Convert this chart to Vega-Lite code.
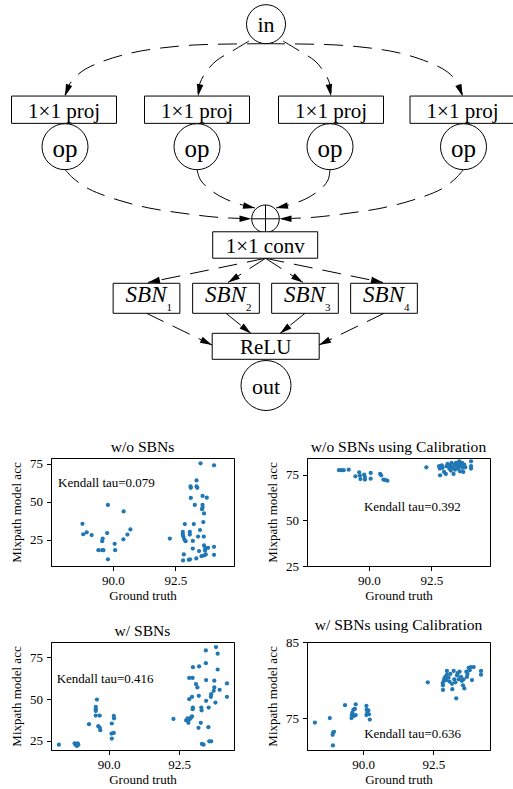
{
"$schema": "https://vega.github.io/schema/vega-lite/v6.json",
"background": "white",
"padding": {"left": 9, "top": 0, "right": 0, "bottom": 0},
"bounds": "flush",
"spacing": 184,
"config": {
 "font": "Liberation Serif",
 "view": {"stroke": "black", "strokeWidth": 1},
 "axis": {"labelFont": "Liberation Serif", "labelFontSize": 13, "labelColor": "black", "titleFont": "Liberation Serif", "titleFontSize": 13, "titleFontWeight": "normal", "titleColor": "black", "tickColor": "black", "tickSize": 4.5, "domainColor": "black", "grid": false, "labelFlush": false},
 "axisX": {"labelPadding": 3.5, "titlePadding": 2},
 "axisY": {"labelPadding": 4, "titlePadding": 6},
 "title": {"font": "Liberation Serif", "fontSize": 15.6, "fontWeight": "normal", "color": "black", "offset": 2, "frame": "group"}
},
"datasets": {
 "nodes": [
  {"id": "in", "kind": "in", "label": "in", "x": 0.15, "y": 2.42},
  {"id": "proj1", "kind": "proj", "label": "1×1 proj", "x": -20.05, "y": 10.97},
  {"id": "proj2", "kind": "proj", "label": "1×1 proj", "x": -6.75, "y": 10.97},
  {"id": "proj3", "kind": "proj", "label": "1×1 proj", "x": 6.65, "y": 10.97},
  {"id": "proj4", "kind": "proj", "label": "1×1 proj", "x": 19.8, "y": 10.97},
  {"id": "op1", "kind": "op", "label": "op", "x": -19.95, "y": 14.67},
  {"id": "op2", "kind": "op", "label": "op", "x": -6.75, "y": 14.67},
  {"id": "op3", "kind": "op", "label": "op", "x": 6.55, "y": 14.67},
  {"id": "op4", "kind": "op", "label": "op", "x": 19.9, "y": 14.67},
  {"id": "sum", "kind": "sum", "label": "", "x": 0.1, "y": 21.88},
  {"id": "conv", "kind": "conv", "label": "1×1 conv", "x": 0.07, "y": 24.5},
  {"id": "sbn1", "kind": "sbn", "label": "SBN", "sub": "1", "x": -11.8, "y": 29.83},
  {"id": "sbn2", "kind": "sbn", "label": "SBN", "sub": "2", "x": -3.85, "y": 29.83},
  {"id": "sbn3", "kind": "sbn", "label": "SBN", "sub": "3", "x": 4.05, "y": 29.83},
  {"id": "sbn4", "kind": "sbn", "label": "SBN", "sub": "4", "x": 11.95, "y": 29.83},
  {"id": "relu", "kind": "relu", "label": "ReLU", "x": 0.12, "y": 34.63},
  {"id": "out", "kind": "out", "label": "out", "x": 0.15, "y": 38.55}
 ],
 "edges": [
  {"edge": "e1", "seq": 1, "x": 0.15, "y": 4.37}, {"edge": "e1", "seq": 2, "x": -3.35, "y": 4.4}, {"edge": "e1", "seq": 3, "x": -7.05, "y": 4.5}, {"edge": "e1", "seq": 4, "x": -10.35, "y": 4.8}, {"edge": "e1", "seq": 5, "x": -13.35, "y": 5.3}, {"edge": "e1", "seq": 6, "x": -16.35, "y": 6.2}, {"edge": "e1", "seq": 7, "x": -18.35, "y": 7.2}, {"edge": "e1", "seq": 8, "x": -19.55, "y": 8.5}, {"edge": "e1", "seq": 9, "x": -19.95, "y": 9.5},
  {"edge": "e2", "seq": 1, "x": -1.55, "y": 4.1}, {"edge": "e2", "seq": 2, "x": -3.05, "y": 5.0}, {"edge": "e2", "seq": 3, "x": -4.85, "y": 6.1}, {"edge": "e2", "seq": 4, "x": -5.85, "y": 7.2}, {"edge": "e2", "seq": 5, "x": -6.45, "y": 8.3}, {"edge": "e2", "seq": 6, "x": -6.65, "y": 9.3},
  {"edge": "e3", "seq": 1, "x": 1.85, "y": 4.1}, {"edge": "e3", "seq": 2, "x": 3.35, "y": 5.0}, {"edge": "e3", "seq": 3, "x": 5.05, "y": 6.1}, {"edge": "e3", "seq": 4, "x": 5.95, "y": 7.2}, {"edge": "e3", "seq": 5, "x": 6.5, "y": 8.3}, {"edge": "e3", "seq": 6, "x": 6.65, "y": 9.3},
  {"edge": "e4", "seq": 1, "x": 0.15, "y": 4.37}, {"edge": "e4", "seq": 2, "x": 3.65, "y": 4.4}, {"edge": "e4", "seq": 3, "x": 7.25, "y": 4.5}, {"edge": "e4", "seq": 4, "x": 10.55, "y": 4.8}, {"edge": "e4", "seq": 5, "x": 13.5, "y": 5.3}, {"edge": "e4", "seq": 6, "x": 16.35, "y": 6.2}, {"edge": "e4", "seq": 7, "x": 18.3, "y": 7.2}, {"edge": "e4", "seq": 8, "x": 19.45, "y": 8.5}, {"edge": "e4", "seq": 9, "x": 19.8, "y": 9.5},
  {"edge": "e5", "seq": 1, "x": -19.95, "y": 16.95}, {"edge": "e5", "seq": 2, "x": -19.15, "y": 17.8}, {"edge": "e5", "seq": 3, "x": -17.55, "y": 18.9}, {"edge": "e5", "seq": 4, "x": -14.65, "y": 20.0}, {"edge": "e5", "seq": 5, "x": -11.55, "y": 20.8}, {"edge": "e5", "seq": 6, "x": -8.35, "y": 21.3}, {"edge": "e5", "seq": 7, "x": -5.05, "y": 21.7}, {"edge": "e5", "seq": 8, "x": -2.35, "y": 21.85}, {"edge": "e5", "seq": 9, "x": -1.3, "y": 21.88},
  {"edge": "e6", "seq": 1, "x": -6.75, "y": 16.95}, {"edge": "e6", "seq": 2, "x": -6.4, "y": 18.0}, {"edge": "e6", "seq": 3, "x": -5.4, "y": 19.0}, {"edge": "e6", "seq": 4, "x": -3.9, "y": 19.9}, {"edge": "e6", "seq": 5, "x": -2.2, "y": 20.5}, {"edge": "e6", "seq": 6, "x": -0.95, "y": 20.8},
  {"edge": "e7", "seq": 1, "x": 6.55, "y": 16.95}, {"edge": "e7", "seq": 2, "x": 6.35, "y": 18.0}, {"edge": "e7", "seq": 3, "x": 5.5, "y": 19.0}, {"edge": "e7", "seq": 4, "x": 4.1, "y": 19.9}, {"edge": "e7", "seq": 5, "x": 2.4, "y": 20.5}, {"edge": "e7", "seq": 6, "x": 1.15, "y": 20.8},
  {"edge": "e8", "seq": 1, "x": 19.9, "y": 16.95}, {"edge": "e8", "seq": 2, "x": 19.15, "y": 17.8}, {"edge": "e8", "seq": 3, "x": 17.7, "y": 18.9}, {"edge": "e8", "seq": 4, "x": 14.85, "y": 20.0}, {"edge": "e8", "seq": 5, "x": 11.75, "y": 20.8}, {"edge": "e8", "seq": 6, "x": 8.55, "y": 21.3}, {"edge": "e8", "seq": 7, "x": 5.25, "y": 21.7}, {"edge": "e8", "seq": 8, "x": 2.55, "y": 21.85}, {"edge": "e8", "seq": 9, "x": 1.5, "y": 21.88},
  {"edge": "e9", "seq": 1, "x": 0.1, "y": 25.83}, {"edge": "e9", "seq": 2, "x": -11.65, "y": 28.25},
  {"edge": "e10", "seq": 1, "x": 0.1, "y": 25.83}, {"edge": "e10", "seq": 2, "x": -3.65, "y": 28.25},
  {"edge": "e11", "seq": 1, "x": 0.1, "y": 25.83}, {"edge": "e11", "seq": 2, "x": 3.85, "y": 28.25},
  {"edge": "e12", "seq": 1, "x": 0.1, "y": 25.83}, {"edge": "e12", "seq": 2, "x": 11.85, "y": 28.25},
  {"edge": "e13", "seq": 1, "x": -11.8, "y": 31.33}, {"edge": "e13", "seq": 2, "x": -5.25, "y": 34.5},
  {"edge": "e14", "seq": 1, "x": -3.85, "y": 31.33}, {"edge": "e14", "seq": 2, "x": -1.35, "y": 33.35},
  {"edge": "e15", "seq": 1, "x": 4.05, "y": 31.33}, {"edge": "e15", "seq": 2, "x": 1.55, "y": 33.35},
  {"edge": "e16", "seq": 1, "x": 11.95, "y": 31.33}, {"edge": "e16", "seq": 2, "x": 5.45, "y": 34.5}
 ],
 "arrows": [
  {"x": -19.95, "y": 9.62, "angle": 200}, {"x": -6.65, "y": 9.62, "angle": 190}, {"x": 6.65, "y": 9.62, "angle": 170}, {"x": 19.8, "y": 9.62, "angle": 160},
  {"x": -1.3, "y": 21.88, "angle": 90}, {"x": -0.95, "y": 20.8, "angle": 102}, {"x": 1.15, "y": 20.8, "angle": 258}, {"x": 1.5, "y": 21.88, "angle": 270},
  {"x": -11.65, "y": 28.25, "angle": 258}, {"x": -3.65, "y": 28.25, "angle": 237}, {"x": 3.85, "y": 28.25, "angle": 123}, {"x": 11.85, "y": 28.25, "angle": 102},
  {"x": -5.25, "y": 34.5, "angle": 116}, {"x": -1.35, "y": 33.35, "angle": 129}, {"x": 1.55, "y": 33.35, "angle": 231}, {"x": 5.45, "y": 34.5, "angle": 244}
 ],
 "ann": [
  {"panel": "p1", "gt": 87.8, "acc": 62.4, "label": "Kendall tau=0.079"},
  {"panel": "p2", "gt": 89.8, "acc": 57.2, "label": "Kendall tau=0.392"},
  {"panel": "p3", "gt": 88.15, "acc": 62.0, "label": "Kendall tau=0.416"},
  {"panel": "p4", "gt": 90.04, "acc": 72.9, "label": "Kendall tau=0.636"}
 ],
 "p1": [
  {"gt": 88.78, "acc": 35.4}, {"gt": 88.81, "acc": 28.5}, {"gt": 88.95, "acc": 29.8}, {"gt": 89.15, "acc": 28.0}, {"gt": 89.8, "acc": 47.8}, {"gt": 89.77, "acc": 29.3}, {"gt": 89.59, "acc": 25.7}, {"gt": 89.57, "acc": 23.9}, {"gt": 89.42, "acc": 18.0}, {"gt": 89.57, "acc": 18.0}, {"gt": 89.62, "acc": 18.0}, {"gt": 89.8, "acc": 12.0}, {"gt": 90.07, "acc": 22.2}, {"gt": 90.09, "acc": 18.0}, {"gt": 90.43, "acc": 43.5}, {"gt": 90.42, "acc": 25.2}, {"gt": 90.58, "acc": 28.3}, {"gt": 90.7, "acc": 31.7},
  {"gt": 92.28, "acc": 25.7}, {"gt": 92.88, "acc": 35.2}, {"gt": 92.8, "acc": 30.0}, {"gt": 92.8, "acc": 28.3}, {"gt": 92.82, "acc": 27.0}, {"gt": 92.86, "acc": 25.2}, {"gt": 92.91, "acc": 23.9}, {"gt": 92.84, "acc": 15.2}, {"gt": 92.81, "acc": 11.3}, {"gt": 93.04, "acc": 11.7}, {"gt": 93.09, "acc": 12.0}, {"gt": 93.08, "acc": 30.0}, {"gt": 93.08, "acc": 28.3}, {"gt": 93.12, "acc": 52.4}, {"gt": 93.11, "acc": 60.0}, {"gt": 93.12, "acc": 59.1}, {"gt": 93.2, "acc": 24.1}, {"gt": 93.2, "acc": 19.1}, {"gt": 93.24, "acc": 35.2}, {"gt": 93.28, "acc": 47.8}, {"gt": 93.35, "acc": 63.9}, {"gt": 93.35, "acc": 60.0}, {"gt": 93.38, "acc": 59.1}, {"gt": 93.34, "acc": 12.6}, {"gt": 93.41, "acc": 27.0}, {"gt": 93.45, "acc": 17.4}, {"gt": 93.49, "acc": 31.3}, {"gt": 93.51, "acc": 75.2}, {"gt": 93.57, "acc": 45.0}, {"gt": 93.59, "acc": 47.8}, {"gt": 93.59, "acc": 46.1}, {"gt": 93.59, "acc": 53.7}, {"gt": 93.55, "acc": 14.1}, {"gt": 93.65, "acc": 42.2}, {"gt": 93.62, "acc": 36.5}, {"gt": 93.64, "acc": 27.0}, {"gt": 93.65, "acc": 21.1}, {"gt": 93.7, "acc": 19.3}, {"gt": 93.69, "acc": 17.8}, {"gt": 93.76, "acc": 52.6}, {"gt": 93.81, "acc": 19.6}, {"gt": 93.66, "acc": 14.6}, {"gt": 93.72, "acc": 15.2}, {"gt": 94.05, "acc": 20.2}, {"gt": 94.05, "acc": 15.0}, {"gt": 94.05, "acc": 73.9}
 ],
 "p2": [
  {"gt": 88.8, "acc": 77.4}, {"gt": 88.89, "acc": 77.4}, {"gt": 88.99, "acc": 77.4}, {"gt": 89.19, "acc": 77.7}, {"gt": 89.46, "acc": 74.1}, {"gt": 89.61, "acc": 76.3}, {"gt": 89.64, "acc": 74.5}, {"gt": 89.66, "acc": 72.6}, {"gt": 89.81, "acc": 75.0}, {"gt": 89.84, "acc": 73.7}, {"gt": 89.84, "acc": 72.3}, {"gt": 90.07, "acc": 75.9}, {"gt": 90.07, "acc": 72.8}, {"gt": 90.45, "acc": 75.4}, {"gt": 90.49, "acc": 74.6}, {"gt": 90.58, "acc": 72.3}, {"gt": 90.65, "acc": 72.1}, {"gt": 90.74, "acc": 71.7},
  {"gt": 92.3, "acc": 79.0}, {"gt": 92.81, "acc": 79.6}, {"gt": 92.84, "acc": 78.3}, {"gt": 92.85, "acc": 74.6}, {"gt": 92.92, "acc": 80.1}, {"gt": 92.95, "acc": 78.7}, {"gt": 93.01, "acc": 76.5}, {"gt": 93.08, "acc": 75.4}, {"gt": 93.11, "acc": 79.6}, {"gt": 93.15, "acc": 80.9}, {"gt": 93.22, "acc": 78.3}, {"gt": 93.24, "acc": 80.1}, {"gt": 93.28, "acc": 77.2}, {"gt": 93.31, "acc": 81.4}, {"gt": 93.35, "acc": 79.0}, {"gt": 93.39, "acc": 75.4}, {"gt": 93.42, "acc": 80.5}, {"gt": 93.45, "acc": 77.7}, {"gt": 93.49, "acc": 81.4}, {"gt": 93.51, "acc": 79.6}, {"gt": 93.55, "acc": 81.4}, {"gt": 93.58, "acc": 78.3}, {"gt": 93.62, "acc": 80.5}, {"gt": 93.62, "acc": 82.3}, {"gt": 93.65, "acc": 76.8}, {"gt": 93.69, "acc": 79.6}, {"gt": 93.73, "acc": 81.4}, {"gt": 93.76, "acc": 78.7}, {"gt": 93.78, "acc": 76.5}, {"gt": 93.82, "acc": 80.5}, {"gt": 93.86, "acc": 79.0}, {"gt": 94.09, "acc": 82.3}, {"gt": 94.09, "acc": 79.6}, {"gt": 94.09, "acc": 78.3}
 ],
 "p3": [
  {"gt": 88.23, "acc": 22.8}, {"gt": 88.79, "acc": 23.6}, {"gt": 88.82, "acc": 22.8}, {"gt": 88.87, "acc": 22.0}, {"gt": 88.9, "acc": 23.6}, {"gt": 88.92, "acc": 22.8}, {"gt": 89.3, "acc": 35.0}, {"gt": 89.58, "acc": 49.7}, {"gt": 89.54, "acc": 45.3}, {"gt": 89.54, "acc": 43.9}, {"gt": 89.54, "acc": 42.9}, {"gt": 89.54, "acc": 40.1}, {"gt": 89.68, "acc": 40.1}, {"gt": 89.63, "acc": 33.8}, {"gt": 89.68, "acc": 33.0}, {"gt": 89.7, "acc": 31.4}, {"gt": 90.11, "acc": 35.4}, {"gt": 90.11, "acc": 26.4}, {"gt": 90.1, "acc": 29.4}, {"gt": 90.18, "acc": 29.8}, {"gt": 90.18, "acc": 39.9}, {"gt": 90.19, "acc": 38.5},
  {"gt": 92.3, "acc": 38.1}, {"gt": 92.75, "acc": 37.3}, {"gt": 92.8, "acc": 38.5}, {"gt": 92.83, "acc": 35.8}, {"gt": 92.87, "acc": 37.9}, {"gt": 92.92, "acc": 38.9}, {"gt": 92.96, "acc": 39.7}, {"gt": 92.98, "acc": 43.9}, {"gt": 92.99, "acc": 44.9}, {"gt": 92.96, "acc": 51.3}, {"gt": 92.86, "acc": 49.9}, {"gt": 92.86, "acc": 62.6}, {"gt": 92.98, "acc": 62.6}, {"gt": 92.99, "acc": 69.0}, {"gt": 93.21, "acc": 69.4}, {"gt": 93.1, "acc": 58.9}, {"gt": 93.15, "acc": 56.9}, {"gt": 93.2, "acc": 51.9}, {"gt": 93.29, "acc": 44.9}, {"gt": 93.3, "acc": 43.3}, {"gt": 93.27, "acc": 35.8}, {"gt": 93.19, "acc": 32.8}, {"gt": 93.31, "acc": 23.2}, {"gt": 93.37, "acc": 22.8}, {"gt": 93.45, "acc": 79.0}, {"gt": 93.45, "acc": 71.4}, {"gt": 93.46, "acc": 61.3}, {"gt": 93.46, "acc": 48.9}, {"gt": 93.55, "acc": 44.9}, {"gt": 93.54, "acc": 33.2}, {"gt": 93.57, "acc": 24.8}, {"gt": 93.64, "acc": 24.8}, {"gt": 93.63, "acc": 51.3}, {"gt": 93.64, "acc": 52.9}, {"gt": 93.73, "acc": 54.9}, {"gt": 93.75, "acc": 56.9}, {"gt": 93.75, "acc": 60.9}, {"gt": 93.79, "acc": 47.9}, {"gt": 93.81, "acc": 81.0}, {"gt": 93.87, "acc": 77.0}, {"gt": 93.87, "acc": 67.6}, {"gt": 93.94, "acc": 55.5}, {"gt": 94.2, "acc": 59.3}, {"gt": 94.2, "acc": 51.3}
 ],
 "p4": [
  {"gt": 88.29, "acc": 74.4}, {"gt": 88.82, "acc": 75.0}, {"gt": 88.92, "acc": 72.8}, {"gt": 88.94, "acc": 73.1}, {"gt": 88.97, "acc": 73.2}, {"gt": 88.93, "acc": 71.4}, {"gt": 89.36, "acc": 76.7}, {"gt": 89.59, "acc": 75.0}, {"gt": 89.6, "acc": 75.4}, {"gt": 89.62, "acc": 75.7}, {"gt": 89.66, "acc": 76.1}, {"gt": 89.71, "acc": 76.2}, {"gt": 89.74, "acc": 76.8}, {"gt": 89.74, "acc": 75.4}, {"gt": 89.68, "acc": 75.3}, {"gt": 90.12, "acc": 76.6}, {"gt": 90.13, "acc": 76.1}, {"gt": 90.15, "acc": 75.7}, {"gt": 90.19, "acc": 76.0}, {"gt": 90.21, "acc": 75.5}, {"gt": 90.24, "acc": 74.8}, {"gt": 90.12, "acc": 75.4},
  {"gt": 92.3, "acc": 79.7}, {"gt": 92.83, "acc": 79.6}, {"gt": 92.84, "acc": 78.7}, {"gt": 92.84, "acc": 79.3}, {"gt": 92.87, "acc": 79.9}, {"gt": 92.89, "acc": 80.2}, {"gt": 92.92, "acc": 80.4}, {"gt": 92.95, "acc": 80.0}, {"gt": 92.98, "acc": 81.2}, {"gt": 92.98, "acc": 80.7}, {"gt": 93.04, "acc": 80.3}, {"gt": 93.07, "acc": 79.8}, {"gt": 93.1, "acc": 80.8}, {"gt": 93.16, "acc": 79.5}, {"gt": 93.17, "acc": 78.8}, {"gt": 93.22, "acc": 81.2}, {"gt": 93.24, "acc": 80.1}, {"gt": 93.28, "acc": 79.7}, {"gt": 93.31, "acc": 77.6}, {"gt": 93.34, "acc": 80.6}, {"gt": 93.36, "acc": 80.9}, {"gt": 93.4, "acc": 80.1}, {"gt": 93.43, "acc": 81.1}, {"gt": 93.48, "acc": 80.4}, {"gt": 93.51, "acc": 79.9}, {"gt": 93.55, "acc": 79.3}, {"gt": 93.57, "acc": 80.1}, {"gt": 93.6, "acc": 78.9}, {"gt": 93.67, "acc": 81.1}, {"gt": 93.69, "acc": 80.4}, {"gt": 93.71, "acc": 80.8}, {"gt": 93.75, "acc": 81.6}, {"gt": 93.79, "acc": 81.3}, {"gt": 93.83, "acc": 81.7}, {"gt": 93.87, "acc": 80.0}, {"gt": 93.93, "acc": 81.7}, {"gt": 94.19, "acc": 81.2}, {"gt": 94.19, "acc": 80.7}
 ]
},
"vconcat": [
 {
  "width": 463, "height": 274,
  "view": {"stroke": null},
  "encoding": {
   "x": {"field": "x", "type": "quantitative", "scale": {"domain": [-21.35, 24.95], "nice": false, "zero": false}, "axis": null},
   "y": {"field": "y", "type": "quantitative", "scale": {"domain": [0, 27.4], "nice": false, "zero": false, "reverse": true}, "axis": null}
  },
  "layer": [
   {"data": {"name": "edges"}, "mark": {"type": "line", "color": "black", "strokeWidth": 1, "strokeDash": [19, 10], "interpolate": "catmull-rom", "clip": false},
    "encoding": {"detail": {"field": "edge", "type": "nominal"}, "order": {"field": "seq", "type": "quantitative"}}},
   {"data": {"name": "nodes"}, "transform": [{"filter": {"field": "kind", "equal": "in"}}], "mark": {"type": "point", "shape": "circle", "size": 1521, "filled": true, "fill": "white", "stroke": "black", "strokeWidth": 1, "opacity": 1}},
   {"data": {"name": "nodes"}, "transform": [{"filter": {"field": "kind", "equal": "op"}}], "mark": {"type": "point", "shape": "circle", "size": 2116, "filled": true, "fill": "white", "stroke": "black", "strokeWidth": 1, "opacity": 1}},
   {"data": {"name": "nodes"}, "transform": [{"filter": {"field": "kind", "equal": "out"}}], "mark": {"type": "point", "shape": "circle", "size": 2500, "filled": true, "fill": "white", "stroke": "black", "strokeWidth": 1, "opacity": 1}},
   {"data": {"name": "nodes"}, "transform": [{"filter": {"field": "kind", "equal": "sum"}}], "mark": {"type": "point", "shape": "M-1,0A1,1 0 1,1 1,0A1,1 0 1,1 -1,0ZM-1,0H1M0,-1V1", "size": 762, "filled": true, "fill": "white", "stroke": "black", "strokeWidth": 1, "opacity": 1}},
   {"data": {"name": "nodes"}, "transform": [{"filter": {"field": "kind", "equal": "proj"}}], "mark": {"type": "point", "shape": "M-1,-0.26H1V0.26H-1Z", "size": 11025, "filled": true, "fill": "white", "stroke": "black", "strokeWidth": 1, "opacity": 1}},
   {"data": {"name": "nodes"}, "transform": [{"filter": {"field": "kind", "equal": "conv"}}], "mark": {"type": "point", "shape": "M-1,-0.252H1V0.252H-1Z", "size": 11025, "filled": true, "fill": "white", "stroke": "black", "strokeWidth": 1, "opacity": 1}},
   {"data": {"name": "nodes"}, "transform": [{"filter": {"field": "kind", "equal": "relu"}}], "mark": {"type": "point", "shape": "M-1,-0.243H1V0.243H-1Z", "size": 11449, "filled": true, "fill": "white", "stroke": "black", "strokeWidth": 1, "opacity": 1}},
   {"data": {"name": "nodes"}, "transform": [{"filter": {"field": "kind", "equal": "sbn"}}], "mark": {"type": "point", "shape": "M-1,-0.45H1V0.45H-1Z", "size": 4449, "filled": true, "fill": "white", "stroke": "black", "strokeWidth": 1, "opacity": 1}},
   {"data": {"name": "arrows"}, "mark": {"type": "point", "shape": "M0,0L-0.55,2L0.55,2Z", "size": 144, "filled": true, "color": "black", "opacity": 1},
    "encoding": {"angle": {"field": "angle", "type": "quantitative", "scale": null}}},
   {"data": {"name": "nodes"}, "transform": [{"filter": {"field": "kind", "oneOf": ["in", "out"]}}], "mark": {"type": "text", "font": "Liberation Serif", "fontSize": 22, "baseline": "alphabetic", "dy": 8, "color": "black"}, "encoding": {"text": {"field": "label"}}},
   {"data": {"name": "nodes"}, "transform": [{"filter": {"field": "kind", "equal": "op"}}], "mark": {"type": "text", "font": "Liberation Serif", "fontSize": 25, "baseline": "alphabetic", "dy": 10, "color": "black"}, "encoding": {"text": {"field": "label"}}},
   {"data": {"name": "nodes"}, "transform": [{"filter": {"field": "kind", "oneOf": ["proj", "conv", "relu"]}}], "mark": {"type": "text", "font": "Liberation Serif", "fontSize": 21, "baseline": "alphabetic", "dy": 8, "color": "black"}, "encoding": {"text": {"field": "label"}}},
   {"data": {"name": "nodes"}, "transform": [{"filter": {"field": "kind", "equal": "sbn"}}], "mark": {"type": "text", "font": "Liberation Serif", "fontStyle": "italic", "fontSize": 23, "align": "right", "baseline": "alphabetic", "dx": 20, "dy": 3.5, "color": "black"}, "encoding": {"text": {"field": "label"}}},
   {"data": {"name": "nodes"}, "transform": [{"filter": {"field": "kind", "equal": "sbn"}}], "mark": {"type": "text", "font": "Liberation Serif", "fontSize": 11, "align": "left", "baseline": "alphabetic", "dx": 20, "dy": 12.5, "color": "black"}, "encoding": {"text": {"field": "sub"}}}
  ]
 },
 {
  "hconcat": [
   {
    "width": 183, "height": 108, "title": "w/o SBNs",
    "encoding": {
     "x": {"field": "gt", "type": "quantitative", "scale": {"domain": [87.52, 94.85], "nice": false, "zero": false}, "axis": {"values": [90, 92.5], "format": ".1f", "title": "Ground truth"}},
     "y": {"field": "acc", "type": "quantitative", "scale": {"domain": [7.6, 78.7], "nice": false, "zero": false}, "axis": {"values": [25, 50, 75], "title": "Mixpath model acc"}}
    },
    "layer": [
     {"data": {"name": "p1"}, "mark": {"type": "circle", "size": 18, "color": "#1f77b4", "opacity": 1}},
     {"data": {"name": "ann"}, "transform": [{"filter": {"field": "panel", "equal": "p1"}}], "mark": {"type": "text", "align": "left", "baseline": "middle", "font": "Liberation Serif", "fontSize": 13, "color": "black"}, "encoding": {"text": {"field": "label"}}}
    ]
   },
   {
    "width": 183, "height": 108, "title": "w/o SBNs using Calibration",
    "encoding": {
     "x": {"field": "gt", "type": "quantitative", "scale": {"domain": [87.52, 94.85], "nice": false, "zero": false}, "axis": {"values": [90, 92.5], "format": ".1f", "title": "Ground truth"}},
     "y": {"field": "acc", "type": "quantitative", "scale": {"domain": [25, 84.1], "nice": false, "zero": false}, "axis": {"values": [25, 50, 75], "title": "Mixpath model acc"}}
    },
    "layer": [
     {"data": {"name": "p2"}, "mark": {"type": "circle", "size": 18, "color": "#1f77b4", "opacity": 1}},
     {"data": {"name": "ann"}, "transform": [{"filter": {"field": "panel", "equal": "p2"}}], "mark": {"type": "text", "align": "left", "baseline": "middle", "font": "Liberation Serif", "fontSize": 13, "color": "black"}, "encoding": {"text": {"field": "label"}}}
    ]
   }
  ],
  "spacing": 73, "bounds": "flush"
 },
 {
  "hconcat": [
   {
    "width": 183, "height": 108, "title": "w/ SBNs",
    "encoding": {
     "x": {"field": "gt", "type": "quantitative", "scale": {"domain": [87.95, 94.45], "nice": false, "zero": false}, "axis": {"values": [90, 92.5], "format": ".1f", "title": "Ground truth"}},
     "y": {"field": "acc", "type": "quantitative", "scale": {"domain": [19.6, 84.0], "nice": false, "zero": false}, "axis": {"values": [25, 50, 75], "title": "Mixpath model acc"}}
    },
    "layer": [
     {"data": {"name": "p3"}, "mark": {"type": "circle", "size": 18, "color": "#1f77b4", "opacity": 1}},
     {"data": {"name": "ann"}, "transform": [{"filter": {"field": "panel", "equal": "p3"}}], "mark": {"type": "text", "align": "left", "baseline": "middle", "font": "Liberation Serif", "fontSize": 13, "color": "black"}, "encoding": {"text": {"field": "label"}}}
    ]
   },
   {
    "width": 183, "height": 108, "title": "w/ SBNs using Calibration",
    "encoding": {
     "x": {"field": "gt", "type": "quantitative", "scale": {"domain": [88.01, 94.51], "nice": false, "zero": false}, "axis": {"values": [90, 92.5], "format": ".1f", "title": "Ground truth"}},
     "y": {"field": "acc", "type": "quantitative", "scale": {"domain": [70.8, 85], "nice": false, "zero": false}, "axis": {"values": [75, 85], "title": "Mixpath model acc"}}
    },
    "layer": [
     {"data": {"name": "p4"}, "mark": {"type": "circle", "size": 18, "color": "#1f77b4", "opacity": 1}},
     {"data": {"name": "ann"}, "transform": [{"filter": {"field": "panel", "equal": "p4"}}], "mark": {"type": "text", "align": "left", "baseline": "middle", "font": "Liberation Serif", "fontSize": 13, "color": "black"}, "encoding": {"text": {"field": "label"}}}
    ]
   }
  ],
  "spacing": 73, "bounds": "flush"
 }
]
}
